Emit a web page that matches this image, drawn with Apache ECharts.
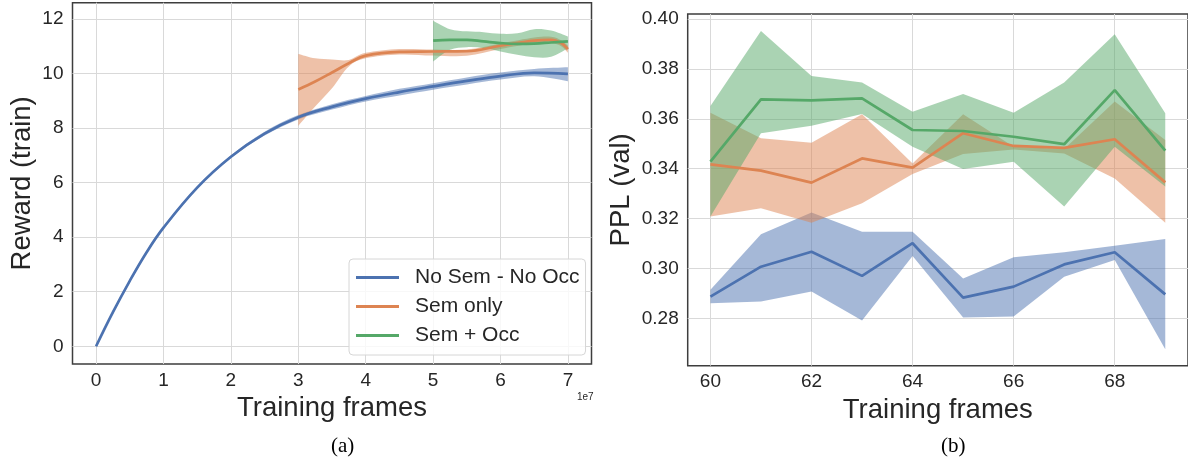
<!DOCTYPE html>
<html><head><meta charset="utf-8">
<script src="https://cdn.jsdelivr.net/npm/echarts@6/dist/echarts.min.js"></script>
<style>html,body{margin:0;padding:0;background:#fff}#c{width:1188px;height:465px}</style>
</head><body><div id="c"></div><script>
const seriesNames = ['No Sem - No Occ', 'Sem only', 'Sem + Occ'];
const colors = ['#4C72B0', '#DD8452', '#55A868'];

// ---- (a) Reward (train) vs training frames (x in units of 1e7)
const leftXTicks = [0, 1, 2, 3, 4, 5, 6, 7];
const leftYTicks = [0, 2, 4, 6, 8, 10, 12];
const blueX  = [0, 0.25, 0.5, 0.75, 1, 1.5, 2, 2.5, 3, 3.5, 4, 4.5, 5, 5.5, 6, 6.5, 7];
const blueY  = [0, 1.25, 2.4, 3.45, 4.35, 5.82, 6.95, 7.8, 8.4, 8.78, 9.08, 9.32, 9.53, 9.73, 9.91, 10.03, 9.99];
const blueLo = [-0.05, 1.2, 2.35, 3.4, 4.3, 5.77, 6.9, 7.73, 8.32, 8.68, 8.98, 9.2, 9.41, 9.6, 9.78, 9.9, 9.72];
const blueHi = [0.05, 1.3, 2.45, 3.5, 4.4, 5.87, 7.0, 7.87, 8.48, 8.88, 9.18, 9.44, 9.65, 9.86, 10.04, 10.17, 10.23];
const orangeX  = [3, 3.25, 3.5, 3.75, 4, 4.5, 5, 5.5, 6, 6.5, 6.75, 6.9, 7];
const orangeY  = [9.42, 9.71, 10.04, 10.38, 10.66, 10.8, 10.81, 10.82, 11.02, 11.21, 11.24, 11.12, 10.9];
const orangeLo = [8.08, 8.79, 9.46, 10.26, 10.56, 10.7, 10.66, 10.65, 10.9, 11.1, 11.12, 11.0, 10.76];
const orangeHi = [10.72, 10.56, 10.52, 10.5, 10.76, 10.9, 10.88, 10.88, 11.1, 11.32, 11.35, 11.22, 11.02];
const greenX  = [5, 5.25, 5.5, 5.75, 6, 6.25, 6.5, 6.75, 7];
const greenY  = [11.21, 11.24, 11.24, 11.18, 11.12, 11.09, 11.1, 11.14, 11.18];
const greenLo = [10.44, 10.87, 10.97, 10.94, 10.81, 10.69, 10.6, 10.62, 10.93];
const greenHi = [11.94, 11.63, 11.55, 11.52, 11.46, 11.48, 11.63, 11.58, 11.36];

// ---- (b) PPL (val) vs training frames
const rightXTicks = [60, 62, 64, 66, 68];
const rightYTicks = [0.28, 0.30, 0.32, 0.34, 0.36, 0.38, 0.40];
const pplX = [60, 61, 62, 63, 64, 65, 66, 67, 68, 69];
const pplBlue    = [0.2887, 0.3007, 0.3067, 0.2970, 0.3101, 0.2883, 0.2927, 0.3016, 0.3065, 0.2896];
const pplBlueLo  = [0.2860, 0.2867, 0.2907, 0.2791, 0.3050, 0.2803, 0.2807, 0.2967, 0.3034, 0.2676];
const pplBlueHi  = [0.2914, 0.3137, 0.3224, 0.3147, 0.3147, 0.2960, 0.3045, 0.3065, 0.3091, 0.3118];
const pplOrange   = [0.3417, 0.3392, 0.3344, 0.3441, 0.3404, 0.3542, 0.3491, 0.3483, 0.3518, 0.3345];
const pplOrangeLo = [0.3208, 0.3241, 0.3183, 0.3261, 0.3379, 0.3459, 0.3477, 0.3461, 0.3361, 0.3183];
const pplOrangeHi = [0.3624, 0.3522, 0.3504, 0.3618, 0.3421, 0.3618, 0.3488, 0.3479, 0.3669, 0.3515];
const pplGreen   = [0.3428, 0.3678, 0.3674, 0.3682, 0.3555, 0.3551, 0.3528, 0.3498, 0.3715, 0.3472];
const pplGreenLo = [0.3208, 0.3542, 0.3572, 0.3619, 0.3488, 0.3399, 0.3428, 0.3248, 0.3488, 0.3328];
const pplGreenHi = [0.3651, 0.3952, 0.3771, 0.3745, 0.3628, 0.3699, 0.3624, 0.3745, 0.3939, 0.3622];

const FONT = 'Liberation Sans, Arial, sans-serif';
const TXT = '#262626';

// smooth path through pixel points (cubic bezier, catmull-rom style)
function curveTo(pts, s) {
  let d = '';
  for (let i = 0; i < pts.length - 1; i++) {
    const p0 = pts[i - 1] || pts[i], p1 = pts[i], p2 = pts[i + 1], p3 = pts[i + 2] || pts[i + 1];
    const c1 = [p1[0] + (p2[0] - p0[0]) * s, p1[1] + (p2[1] - p0[1]) * s];
    const c2 = [p2[0] - (p3[0] - p1[0]) * s, p2[1] - (p3[1] - p1[1]) * s];
    d += ' C' + c1[0] + ' ' + c1[1] + ' ' + c2[0] + ' ' + c2[1] + ' ' + p2[0] + ' ' + p2[1];
  }
  return d;
}
function band(xs, lo, hi, color, axis, smooth) {
  return {
    type: 'custom', xAxisIndex: axis, yAxisIndex: axis, z: 1, silent: true,
    data: xs.map((x, i) => [x, lo[i], hi[i]]),
    renderItem: function (params, api) {
      if (params.dataIndex !== 0) return null;
      const up = xs.map((x, i) => api.coord([x, hi[i]]));
      const dn = xs.map((x, i) => api.coord([x, lo[i]])).reverse();
      let d;
      if (smooth) {
        d = 'M' + up[0][0] + ' ' + up[0][1] + curveTo(up, smooth) +
            ' L' + dn[0][0] + ' ' + dn[0][1] + curveTo(dn, smooth) + ' Z';
      } else {
        d = 'M' + up.map(p => p[0] + ' ' + p[1]).join(' L') + ' L' + dn.map(p => p[0] + ' ' + p[1]).join(' L') + ' Z';
      }
      return { type: 'path', shape: { pathData: d }, style: { fill: color, opacity: 0.5 } };
    }
  };
}
function line(name, xs, ys, color, axis, smooth) {
  return { type: 'line', name: name, xAxisIndex: axis, yAxisIndex: axis, symbol: 'none', smooth: smooth,
    z: 3, data: xs.map((x, i) => [x, ys[i]]), lineStyle: { width: 2.7, color: color }, itemStyle: { color: color } };
}
function xAx(idx, min, max, ticks, name, fmt) {
  return { type: 'value', gridIndex: idx, min: min, max: max,
    axisLine: { show: false }, axisTick: { show: false, customValues: ticks },
    axisLabel: { customValues: ticks, fontSize: 19, fontFamily: FONT, color: TXT, margin: 7, formatter: fmt },
    splitLine: { show: true, lineStyle: { color: '#d9d9d9', width: 1 } },
    name: name, nameLocation: 'middle', nameGap: 27,
    nameTextStyle: { fontSize: 27.5, fontFamily: FONT, color: TXT } };
}
function yAx(idx, min, max, ticks, name, gap, fmt) {
  return { type: 'value', gridIndex: idx, min: min, max: max,
    axisLine: { show: false }, axisTick: { show: false, customValues: ticks },
    axisLabel: { customValues: ticks, fontSize: 19, fontFamily: FONT, color: TXT, margin: 9, formatter: fmt },
    splitLine: { show: true, lineStyle: { color: '#d9d9d9', width: 1 } },
    name: name, nameLocation: 'middle', nameGap: gap,
    nameTextStyle: { fontSize: 27.5, fontFamily: FONT, color: TXT } };
}

const series = [
  band(blueX, blueLo, blueHi, colors[0], 0, 0.17),
  band(orangeX, orangeLo, orangeHi, colors[1], 0, 0.17),
  band(greenX, greenLo, greenHi, colors[2], 0, 0.17),
  line(seriesNames[0], blueX, blueY, colors[0], 0, 0.4),
  line(seriesNames[1], orangeX, orangeY, colors[1], 0, 0.4),
  line(seriesNames[2], greenX, greenY, colors[2], 0, 0.4),
  band(pplX, pplBlueLo, pplBlueHi, colors[0], 1, 0),
  band(pplX, pplOrangeLo, pplOrangeHi, colors[1], 1, 0),
  band(pplX, pplGreenLo, pplGreenHi, colors[2], 1, 0),
  line(seriesNames[0], pplX, pplBlue, colors[0], 1, false),
  line(seriesNames[1], pplX, pplOrange, colors[1], 1, false),
  line(seriesNames[2], pplX, pplGreen, colors[2], 1, false)
];

const chart = echarts.init(document.getElementById('c'), null, { renderer: 'canvas' });
chart.setOption({
  animation: false,
  backgroundColor: '#ffffff',
  grid: [
    { left: 72.5, top: 2.7, width: 519, height: 361.3, show: true, borderColor: '#3d3d3d', borderWidth: 1.5, containLabel: false },
    { left: 687.7, top: 14, width: 506, height: 351.7, show: true, borderColor: '#3d3d3d', borderWidth: 1.5, containLabel: false }
  ],
  xAxis: [
    xAx(0, -0.35, 7.35, leftXTicks, 'Training frames', v => String(v)),
    xAx(1, 59.55, 69.45, rightXTicks, 'Training frames', v => String(v))
  ],
  yAxis: [
    yAx(0, -0.65, 12.6, leftYTicks, 'Reward (train)', 36, v => String(v)),
    yAx(1, 0.261, 0.402, rightYTicks, 'PPL (val)', 52, v => v.toFixed(2))
  ],
  legend: {
    data: seriesNames, left: 349, top: 259, orient: 'vertical', icon: 'rect',
    itemWidth: 43, itemHeight: 3, itemGap: 8, padding: [8, 6, 9, 7],
    textStyle: { fontSize: 21, fontFamily: FONT, color: TXT, lineHeight: 21, padding: [0, 0, 0, 11] },
    borderColor: '#d6d6d6', borderWidth: 1, borderRadius: 4, backgroundColor: 'rgba(255,255,255,0.8)',
    selectedMode: false
  },
  graphic: [
    { type: 'text', left: 577, top: 392, style: { text: '1e7', fontSize: 10, fontFamily: FONT, fill: TXT } },
    { type: 'text', left: 331, top: 436, style: { text: '(a)', fontSize: 21, fontFamily: 'Liberation Serif, Times New Roman, serif', fill: '#000' } },
    { type: 'text', left: 941, top: 436, style: { text: '(b)', fontSize: 21, fontFamily: 'Liberation Serif, Times New Roman, serif', fill: '#000' } }
  ],
  series: series
});
</script></body></html>
